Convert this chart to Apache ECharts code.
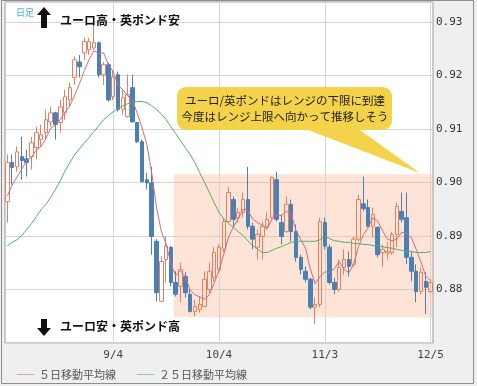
<!DOCTYPE html>
<html><head><meta charset="utf-8">
<script src="https://cdn.jsdelivr.net/npm/echarts@6/dist/echarts.min.js"></script>
<style>html,body{margin:0;padding:0;background:#fff}#c{width:477px;height:386px;background:#efefef}</style>
</head><body><div id="c"></div>
<script>
const dates = ['8/3','8/4','8/7','8/8','8/9','8/10','8/11','8/14','8/15','8/16','8/17','8/18','8/21','8/22','8/23','8/24','8/25','8/28','8/29','8/30','8/31',
'9/1','9/4','9/5','9/6','9/7','9/8','9/11','9/12','9/13','9/14','9/15','9/18','9/19','9/20','9/21','9/22','9/25','9/26','9/27','9/28','9/29',
'10/2','10/3','10/4','10/5','10/6','10/9','10/10','10/11','10/12','10/13','10/16','10/17','10/18','10/19','10/20','10/23','10/24','10/25','10/26','10/27','10/30','10/31',
'11/1','11/2','11/3','11/6','11/7','11/8','11/9','11/10','11/13','11/14','11/15','11/16','11/17','11/20','11/21','11/22','11/23','11/24','11/27','11/28','11/29','11/30',
'12/1','12/4','12/5'];
const openV = [.8964,.9037,.9029,.9048,.9044,.9048,.9065,.9080,.9093,.9113,
.9130,.9112,.9130,.9154,.9196,.9225,.9242,.9248,.9251,.9261,
.9201,.9220,.9160,.9201,.9136,.9123,.9177,.9112,.9076,.9005,
.8999,.8890,.8778,.8856,.8879,.8813,.8806,.8824,.8791,.8759,
.8763,.8768,.8800,.8822,.8837,.8875,.8927,.8968,.8934,.8944,
.8968,.8918,.8879,.8899,.8918,.8934,.9005,.8925,.8908,.8959,
.8908,.8860,.8834,.8819,.8767,.8772,.8925,.8879,.8813,.8800,
.8841,.8856,.8847,.8894,.8960,.8953,.8918,.8916,.8869,.8868,
.8869,.8903,.8946,.8934,.8860,.8834,.8796,.8815,.8796];
const closeV = [.9037,.9028,.9057,.9041,.9037,.9074,.9093,.9089,.9117,.9130,
.9108,.9141,.9160,.9177,.9229,.9216,.9263,.9263,.9261,.9201,
.9220,.9154,.9197,.9136,.9158,.9164,.9113,.9076,.9001,.8999,
.8899,.8794,.8852,.8881,.8813,.8791,.8837,.8794,.8759,.8768,
.8772,.8819,.8834,.8869,.8879,.8927,.8981,.8931,.8944,.8968,
.8918,.8894,.8903,.8918,.8931,.9009,.8931,.8899,.8959,.8908,
.8860,.8837,.8819,.8767,.8772,.8927,.8881,.8813,.8800,.8841,
.8856,.8843,.8894,.8968,.8951,.8918,.8940,.8865,.8875,.8871,
.8903,.8955,.8931,.8860,.8834,.8796,.8832,.8804,.8813];
const lowV = [.8925,.8996,.9020,.9005,.9011,.9024,.9043,.9067,.9080,.9104,
.9080,.9093,.9117,.9141,.9182,.9196,.9229,.9238,.9248,.9196,
.9182,.9151,.9154,.9132,.9126,.9121,.9113,.9074,.9001,.8987,
.8865,.8778,.8776,.8813,.8806,.8787,.8776,.8785,.8757,.8750,
.8757,.8767,.8794,.8815,.8832,.8869,.8925,.8916,.8925,.8934,
.8912,.8875,.8856,.8856,.8912,.8931,.8927,.8884,.8906,.8890,
.8852,.8828,.8813,.8763,.8735,.8767,.8875,.8809,.8791,.8796,
.8828,.8824,.8843,.8890,.8946,.8916,.8897,.8860,.8841,.8856,
.8865,.8879,.8925,.8847,.8815,.8776,.8791,.8754,.8794];
const highV = [.9052,.9052,.9067,.9085,.9061,.9085,.9104,.9108,.9136,.9141,
.9132,.9154,.9173,.9186,.9235,.9238,.9270,.9270,.9296,.9263,
.9225,.9224,.9210,.9207,.9173,.9201,.9201,.9113,.9080,.9018,
.9029,.8894,.8862,.8899,.8881,.8834,.8850,.8832,.8800,.8781,
.8787,.8834,.8850,.8879,.8884,.8934,.8992,.8974,.8953,.8981,
.9029,.8925,.8912,.8927,.8944,.9011,.9020,.8940,.8974,.8968,
.8921,.8865,.8843,.8822,.8785,.8934,.8934,.8884,.8822,.8856,
.8875,.8871,.8899,.8977,.9011,.8968,.8953,.8918,.8884,.8888,
.8908,.8962,.8981,.8981,.8871,.8847,.8841,.8832,.8819];
const ma5 = [.8975,.8995,.9010,.9025,.9040,.9047,.9060,.9067,.9082,.9101,
.9107,.9117,.9131,.9143,.9163,.9185,.9209,.9230,.9246,.9241,
.9242,.9220,.9207,.9182,.9173,.9162,.9154,.9129,.9102,.9071,
.9018,.8954,.8909,.8885,.8848,.8826,.8835,.8823,.8799,.8790,
.8786,.8782,.8790,.8812,.8835,.8866,.8898,.8917,.8932,.8950,
.8948,.8931,.8925,.8920,.8913,.8931,.8938,.8938,.8946,.8941,
.8911,.8893,.8877,.8838,.8811,.8824,.8833,.8832,.8839,.8852,
.8838,.8831,.8847,.8880,.8902,.8915,.8934,.8928,.8910,.8894,
.8891,.8894,.8907,.8904,.8897,.8875,.8851,.8825,.8816];
const ma25 = [.8882,.8888,.8893,.8901,.8912,.8923,.8936,.8949,.8959,.8972,
.8987,.9003,.9022,.9037,.9052,.9063,.9074,.9084,.9095,.9106,
.9117,.9125,.9132,.9138,.9143,.9147,.9149,.9151,.9151,.9149,
.9143,.9136,.9128,.9117,.9104,.9091,.9078,.9065,.9052,.9037,
.9018,.9000,.8981,.8962,.8944,.8932,.8923,.8916,.8908,.8901,
.8891,.8882,.8875,.8869,.8869,.8873,.8877,.8880,.8884,.8888,
.8890,.8890,.8890,.8890,.8890,.8893,.8899,.8895,.8891,.8890,
.8888,.8888,.8886,.8886,.8884,.8884,.8882,.8882,.8880,.8878,
.8877,.8875,.8873,.8871,.8871,.8869,.8869,.8869,.8871];
const gridDates = ['9/4','10/4','11/3','12/5'];
const rangeTop = 0.9015, rangeBottom = 0.8748, rangeStartIndex = 34.6;
const seriesNames = ['５日移動平均線','２５日移動平均線'];

const ohlc = dates.map((d,i)=>[openV[i], closeV[i], lowV[i], highV[i]]);
const mono = '"DejaVu Sans Mono", monospace';
const jp = '"Noto Sans CJK JP", sans-serif';
const chart = echarts.init(document.getElementById('c'), null, {renderer:'canvas'});
chart.setOption({
  animation: false,
  grid: {left: 5, right: 44, top: 2, bottom: 43, show: true, backgroundColor: '#ffffff', borderColor: '#9a9a9a', borderWidth: 1, z: 0},
  xAxis: [{
    type: 'category', data: dates, boundaryGap: true,
    axisLine: {show: false}, axisTick: {show: false}, splitLine: {show: false},
    axisLabel: {interval: (idx, v) => gridDates.indexOf(v) >= 0, color: '#444', fontFamily: mono, fontSize: 11, margin: 7, hideOverlap: false}
  }, {
    type: 'value', min: -0.5, max: dates.length - 0.5, show: false
  }],
  yAxis: {
    type: 'value', position: 'right', min: 0.87, max: 0.9337, interval: 0.01, scale: true,
    axisLine: {show: false}, axisTick: {show: false},
    splitLine: {lineStyle: {color: '#d4d4d4', width: 1}},
    axisLabel: {formatter: v => v.toFixed(2), color: '#333', fontFamily: mono, fontSize: 11, margin: 3, showMinLabel: false, showMaxLabel: false}
  },
  legend: {
    left: 12, top: 364, itemWidth: 17, itemHeight: 8, itemGap: 21,
    data: [{name: seriesNames[0], icon: 'path://M0,4L16,4L16,5L0,5Z', itemStyle: {color: '#e0a0aa'}},
           {name: seriesNames[1], icon: 'path://M0,4L16,4L16,5L0,5Z', itemStyle: {color: '#88ccb0'}}],
    textStyle: {color: '#555', fontSize: 11, fontFamily: jp}
  },
  series: [
    {
      type: 'line', xAxisIndex: 1, yAxisIndex: 0, data: [], z: 1, silent: true,
      markArea: {silent: true, z: 1, itemStyle: {color: 'rgba(250,180,140,0.36)'},
        data: [[{xAxis: rangeStartIndex, yAxis: rangeTop}, {xAxis: dates.length - 0.5, yAxis: rangeBottom}]]}
    },
    {
      type: 'candlestick', data: ohlc, z: 3, barWidth: 4,
      itemStyle: {color: 'rgba(0,0,0,0)', color0: '#4b80b5', borderColor: '#e3805f', borderColor0: '#4b80b5', borderWidth: 1},
      markLine: {silent: true, z: 1, symbol: 'none', label: {show: false},
        lineStyle: {color: '#d4d4d4', type: 'solid', width: 1},
        data: gridDates.map(d => ({xAxis: d}))}
    },
    {name: seriesNames[0], type: 'line', data: ma5, symbol: 'none', z: 4, lineStyle: {color: '#cf6c7e', width: 1}, itemStyle: {color: '#cf6c7e'}},
    {name: seriesNames[1], type: 'line', data: ma25, symbol: 'none', z: 4, lineStyle: {color: '#4fae78', width: 1}, itemStyle: {color: '#4fae78'}}
  ],
  graphic: [
    {type: 'rect', z: 100, silent: true, shape: {x: 1.5, y: 0.5, width: 472, height: 383}, style: {fill: 'none', stroke: '#8c8c8c', lineWidth: 1}},
    {type: 'text', z: 100, x: 16, y: 8, style: {text: '日足', fill: '#3fb0e6', font: '9px ' + jp}},
    {type: 'polygon', z: 100, shape: {points: [[44,7],[51,15],[47,15],[47,28],[41,28],[41,15],[37,15]]}, style: {fill: '#111'}},
    {type: 'text', z: 100, x: 60, y: 20, style: {text: 'ユーロ高・英ポンド安', fill: '#111', font: 'bold 12px ' + jp, verticalAlign: 'middle'}},
    {type: 'polygon', z: 100, shape: {points: [[41,319],[47,319],[47,328],[51,328],[44,336],[37,328],[41,328]]}, style: {fill: '#111'}},
    {type: 'text', z: 100, x: 60, y: 326, style: {text: 'ユーロ安・英ポンド高', fill: '#111', font: 'bold 12px ' + jp, verticalAlign: 'middle'}},
    {type: 'polygon', z: 100, shape: {points: [[303,128],[357,128],[420,173]]}, style: {fill: '#f4d249'}},
    {type: 'rect', z: 100, shape: {x: 177, y: 87, width: 215, height: 43, r: 9}, style: {fill: '#f4d249'}},
    {type: 'text', z: 101, x: 285, y: 101, style: {text: 'ユーロ/英ポンドはレンジの下限に到達', fill: '#222', font: '11.5px ' + jp, align: 'center', verticalAlign: 'middle'}},
    {type: 'text', z: 101, x: 285, y: 117, style: {text: '今度はレンジ上限へ向かって推移しそう', fill: '#222', font: '11.5px ' + jp, align: 'center', verticalAlign: 'middle'}}
  ]
});
</script></body></html>
